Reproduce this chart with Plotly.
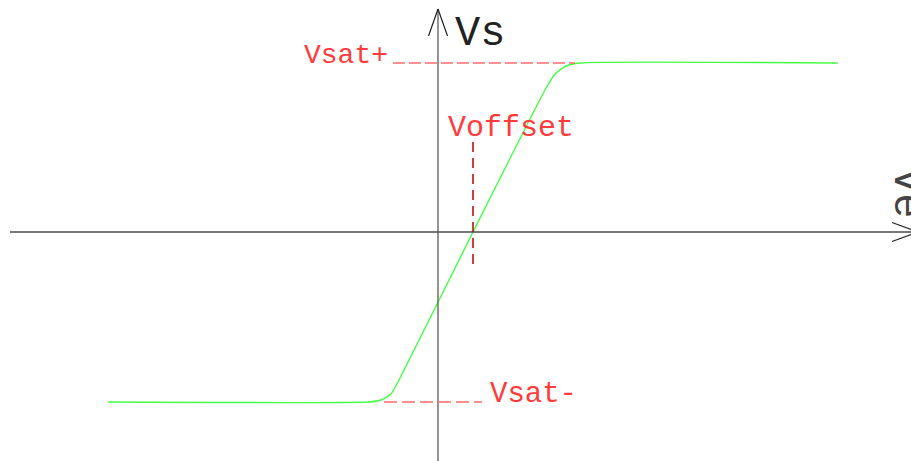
import plotly.graph_objects as go

# ---- data (units: 1 unit = 10 px in the drawing) ----
ve = [-33.0, -7.0, -5.7, -4.7, -3.9, 3.5, 10.7, 11.7, 12.8, 14.2, 40.0]
vs = [-17.0, -17.0, -16.8, -16.2, -14.8, 0.0, 14.2, 15.8, 16.6, 16.9, 16.9]
vsat_pos = 16.9
vsat_neg = -17.0
voffset = 3.5

labels = ["Vs", "Ve", "Vsat+", "Voffset", "Vsat-"]

# ---- view ----
W, H = 911, 461
X0, X1 = -43.8, 47.3
Y0, Y1 = -22.9, 23.2

RED_TXT = "#ff3b3b"
RED_DASH = "#ff6a6a"
DARK_RED = "#c00000"
GREEN = "#44ff44"
AXIS = "#4a4a4a"
FONT = "Liberation Mono"

fig = go.Figure()
fig.add_trace(go.Scatter(x=ve, y=vs, mode="lines",
                         line=dict(color=GREEN, width=1.4, shape="spline", smoothing=0.5),
                         hoverinfo="skip", showlegend=False))

shapes = []
# axes
shapes.append(dict(type="line", x0=-42.8, x1=48.5, y0=0, y1=0, line=dict(color=AXIS, width=1.3)))
shapes.append(dict(type="line", x0=0, x1=0, y0=-24, y1=22.3, line=dict(color="#5a5a5a", width=1.3)))
# arrow heads (open chevrons)
shapes.append(dict(type="line", x0=-0.95, y0=19.6, x1=0, y1=22.3, line=dict(color="#222", width=1.2)))
shapes.append(dict(type="line", x0=0.95, y0=19.6, x1=0, y1=22.3, line=dict(color="#222", width=1.2)))
shapes.append(dict(type="line", x0=45.4, y0=0.95, x1=48.0, y1=0, line=dict(color="#222", width=1.2)))
shapes.append(dict(type="line", x0=45.4, y0=-0.95, x1=48.0, y1=0, line=dict(color="#222", width=1.2)))
# dashed guides
shapes.append(dict(type="line", x0=-4.5, x1=13.7, y0=vsat_pos, y1=vsat_pos,
                   line=dict(color=RED_DASH, width=1.3, dash="12px,4px")))
shapes.append(dict(type="line", x0=-5.4, x1=4.4, y0=vsat_neg, y1=vsat_neg,
                   line=dict(color=RED_DASH, width=1.3, dash="13px,5px")))
shapes.append(dict(type="line", x0=voffset, x1=voffset, y0=9.0, y1=-3.6,
                   line=dict(color=DARK_RED, width=1.5, dash="10px,6px")))

annotations = [
    dict(x=1.6, y=19.8, text=labels[0], font=dict(family=FONT, size=42, color="#222"),
         xanchor="left", yanchor="middle"),
    dict(x=44.3, y=3.9, text=labels[1], font=dict(family=FONT, size=42, color="#444"),
         xanchor="left", yanchor="middle", textangle=90),
    dict(x=-13.5, y=vsat_pos + 0.75, text=labels[2], font=dict(family=FONT, size=28, color=RED_TXT),
         xanchor="left", yanchor="middle"),
    dict(x=0.9, y=10.4, text=labels[3], font=dict(family=FONT, size=30, color=RED_TXT),
         xanchor="left", yanchor="middle"),
    dict(x=5.1, y=vsat_neg + 0.75, text=labels[4], font=dict(family=FONT, size=29, color=RED_TXT),
         xanchor="left", yanchor="middle"),
]
for a in annotations:
    a.update(xref="x", yref="y", showarrow=False, borderpad=0)

fig.update_layout(
    width=W, height=H, margin=dict(l=0, r=0, t=0, b=0),
    paper_bgcolor="white", plot_bgcolor="white",
    xaxis=dict(range=[X0, X1], visible=False, fixedrange=True),
    yaxis=dict(range=[Y0, Y1], visible=False, fixedrange=True),
    shapes=shapes, annotations=annotations, showlegend=False,
)
fig.write_html("out.html", config={"displayModeBar": False},
               post_script="document.body.style.margin='0';document.body.style.overflow='hidden';")
